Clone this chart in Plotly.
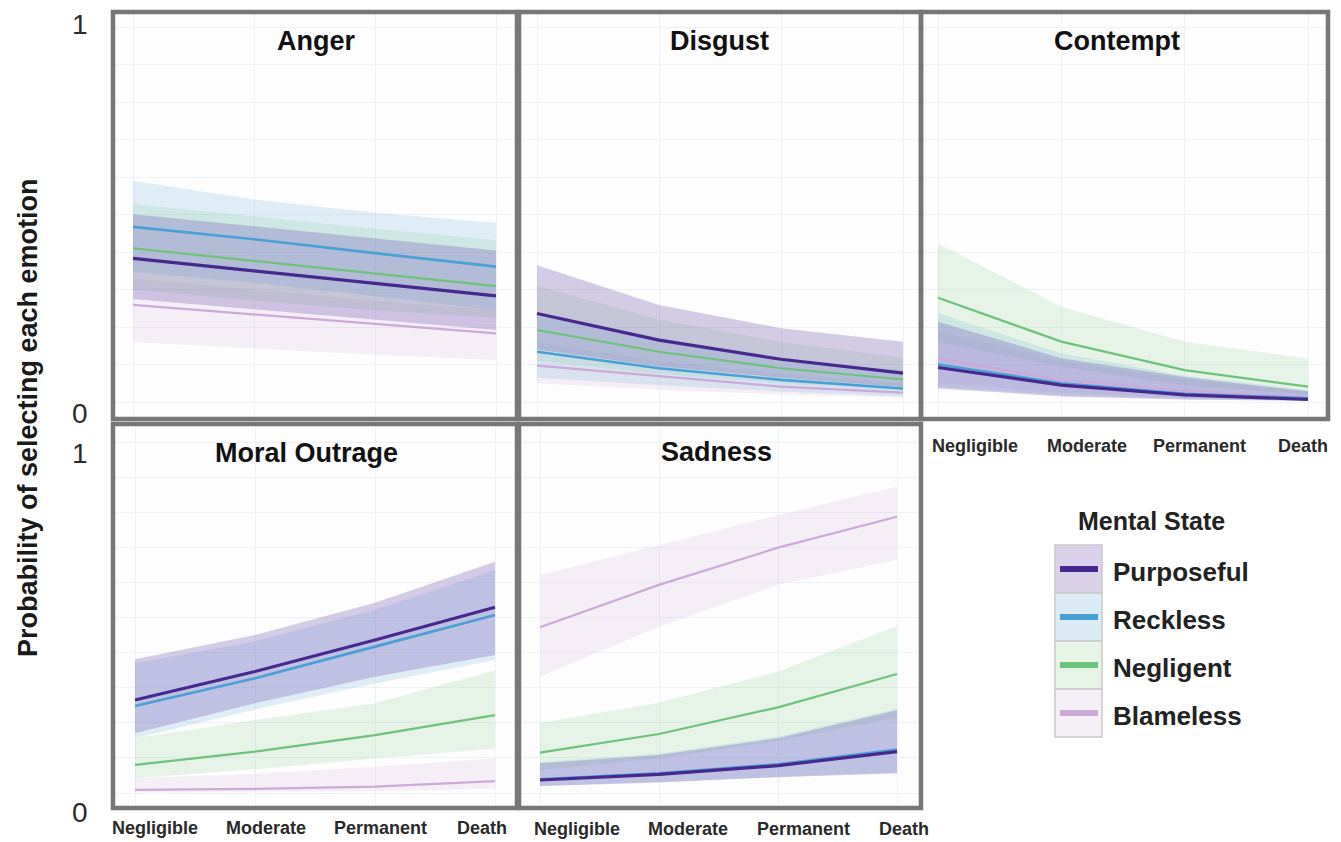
import plotly.graph_objects as go

W, H = 1341, 842

# ---------------- data ----------------
severity = ["Negligible", "Moderate", "Permanent", "Death"]
states = ["Purposeful", "Reckless", "Negligent", "Blameless"]
emotions = ["Anger", "Disgust", "Contempt", "Moral Outrage", "Sadness"]

anger_mean = {"Purposeful": [0.383, 0.350, 0.316, 0.283], "Reckless": [0.467, 0.434, 0.397, 0.361],
              "Negligent": [0.410, 0.377, 0.343, 0.309], "Blameless": [0.259, 0.234, 0.208, 0.183]}
anger_hi = {"Purposeful": [0.501, 0.468, 0.435, 0.404], "Reckless": [0.590, 0.540, 0.505, 0.478],
            "Negligent": [0.528, 0.495, 0.462, 0.432], "Blameless": [0.330, 0.300, 0.270, 0.245]}
anger_lo = {"Purposeful": [0.275, 0.247, 0.219, 0.192], "Reckless": [0.347, 0.318, 0.282, 0.245],
            "Negligent": [0.300, 0.270, 0.245, 0.224], "Blameless": [0.160, 0.142, 0.126, 0.112]}

disgust_mean = {"Purposeful": [0.236, 0.165, 0.114, 0.077], "Reckless": [0.134, 0.090, 0.059, 0.036],
                "Negligent": [0.192, 0.134, 0.090, 0.060], "Blameless": [0.097, 0.068, 0.041, 0.025]}
disgust_hi = {"Purposeful": [0.365, 0.259, 0.197, 0.161], "Reckless": [0.240, 0.170, 0.115, 0.085],
              "Negligent": [0.310, 0.220, 0.160, 0.118], "Blameless": [0.160, 0.110, 0.075, 0.050]}
disgust_lo = {"Purposeful": [0.140, 0.095, 0.065, 0.040], "Reckless": [0.065, 0.045, 0.028, 0.015],
              "Negligent": [0.110, 0.075, 0.050, 0.030], "Blameless": [0.050, 0.033, 0.020, 0.012]}

contempt_mean = {"Purposeful": [0.092, 0.045, 0.019, 0.007], "Reckless": [0.100, 0.050, 0.022, 0.010],
                 "Negligent": [0.278, 0.161, 0.085, 0.041], "Blameless": [0.116, 0.059, 0.030, 0.012]}
contempt_hi = {"Purposeful": [0.214, 0.117, 0.067, 0.028], "Reckless": [0.237, 0.130, 0.070, 0.032],
               "Negligent": [0.423, 0.254, 0.161, 0.116], "Blameless": [0.190, 0.110, 0.060, 0.030]}
contempt_lo = {"Purposeful": [0.036, 0.015, 0.007, 0.003], "Reckless": [0.040, 0.018, 0.008, 0.004],
               "Negligent": [0.160, 0.095, 0.045, 0.020], "Blameless": [0.050, 0.025, 0.012, 0.005]}

outrage_mean = {"Purposeful": [0.265, 0.346, 0.436, 0.529], "Reckless": [0.248, 0.327, 0.417, 0.507],
                "Negligent": [0.080, 0.118, 0.165, 0.222], "Blameless": [0.009, 0.012, 0.018, 0.034]}
outrage_hi = {"Purposeful": [0.381, 0.450, 0.542, 0.659], "Reckless": [0.370, 0.432, 0.522, 0.635],
              "Negligent": [0.156, 0.208, 0.256, 0.350], "Blameless": [0.042, 0.055, 0.075, 0.099]}
outrage_lo = {"Purposeful": [0.170, 0.256, 0.331, 0.393], "Reckless": [0.156, 0.238, 0.312, 0.379],
              "Negligent": [0.042, 0.068, 0.098, 0.127], "Blameless": [0.002, 0.003, 0.005, 0.012]}

sadness_mean = {"Purposeful": [0.037, 0.053, 0.078, 0.118], "Reckless": [0.039, 0.056, 0.082, 0.124],
                "Negligent": [0.115, 0.168, 0.244, 0.339], "Blameless": [0.472, 0.593, 0.699, 0.787]}
sadness_hi = {"Purposeful": [0.085, 0.108, 0.156, 0.236], "Reckless": [0.088, 0.112, 0.160, 0.240],
              "Negligent": [0.200, 0.257, 0.346, 0.476], "Blameless": [0.621, 0.707, 0.792, 0.873]}
sadness_lo = {"Purposeful": [0.020, 0.030, 0.045, 0.056], "Reckless": [0.020, 0.031, 0.046, 0.058],
              "Negligent": [0.065, 0.098, 0.148, 0.215], "Blameless": [0.331, 0.474, 0.593, 0.664]}

y_tick_labels = ["0", "1"]
y_title = "Probability of selecting each emotion"
legend_title = "Mental State"

# ---------------- styles ----------------
line_col = {"Purposeful": "#46288e", "Reckless": "#4a9fd5", "Negligent": "#6cc47a", "Blameless": "#cda9da"}
line_w = {"Purposeful": 3.2, "Reckless": 2.6, "Negligent": 2.2, "Blameless": 2.2}
fill_col = {"Purposeful": "rgba(118,88,178,0.30)", "Reckless": "rgba(120,185,225,0.22)",
            "Negligent": "rgba(125,205,135,0.18)", "Blameless": "rgba(205,165,220,0.17)"}
legend_fill = {"Purposeful": "#dcd1ea", "Reckless": "#dcecf6", "Negligent": "#e6f4e6", "Blameless": "#f5eff7"}
band_order = ["Blameless", "Negligent", "Reckless", "Purposeful"]
line_order = ["Blameless", "Negligent", "Reckless", "Purposeful"]

FONT = "Liberation Sans, Arial, Helvetica, sans-serif"

# panel boxes in pixels: (x0, x1, y0, y1), category pixel positions (Neg, Death), title position
panels = [
    ("Anger", anger_mean, anger_lo, anger_hi, (113, 517, 12, 419), (133, 496), (316, 41)),
    ("Disgust", disgust_mean, disgust_lo, disgust_hi, (519, 921, 12, 419), (537, 903), (719, 41)),
    ("Contempt", contempt_mean, contempt_lo, contempt_hi, (921, 1328, 12, 419), (938, 1308), (1117, 41)),
    ("Moral Outrage", outrage_mean, outrage_lo, outrage_hi, (113, 517, 424, 808), (135, 495), (306, 453)),
    ("Sadness", sadness_mean, sadness_lo, sadness_hi, (519, 921, 424, 808), (540, 897), (716, 452)),
]
top_y = (402, 27)     # pixel of value 0, value 1 (top row)
bot_y = (793, 442)    # bottom row


def px(x):
    return x / W


def py(y):
    return 1 - y / H


fig = go.Figure()
layout = dict(width=W, height=H, margin=dict(l=0, r=0, t=0, b=0),
              paper_bgcolor="white", plot_bgcolor="#fdfdfd", showlegend=False)
shapes, annotations = [], []
xs = list(range(len(severity)))

for i, (name, mean, lo, hi, box, cat_px, title_pos) in enumerate(panels):
    ax = "" if i == 0 else str(i + 1)
    x0, x1, y0, y1 = box
    n0, n3 = cat_px
    step = (n3 - n0) / 3
    xr = [(x0 - n0) / step, 3 + (x1 - n3) / step]
    zero, one = top_y if y1 < 420 else bot_y
    unit = zero - one
    yr = [-(y1 - zero) / unit, 1 + (one - y0) / unit]
    layout["xaxis" + ax] = dict(domain=[px(x0), px(x1)], range=xr, showticklabels=False,
                                showgrid=True, gridcolor="#eef1f6", gridwidth=1, tickvals=xs,
                                zeroline=False, showline=False, ticks="", anchor="y" + ax)
    layout["yaxis" + ax] = dict(domain=[py(y1), py(y0)], range=yr, showticklabels=False,
                                showgrid=True, gridcolor="#eef1f6", gridwidth=1, dtick=0.1, tick0=0,
                                zeroline=False, showline=False, ticks="", anchor="x" + ax)
    for s in band_order:
        fig.add_trace(go.Scatter(x=xs, y=lo[s], mode="lines", line=dict(width=0, color=fill_col[s]),
                                 xaxis="x" + ax, yaxis="y" + ax, hoverinfo="skip"))
        fig.add_trace(go.Scatter(x=xs, y=hi[s], mode="lines", line=dict(width=0, color=fill_col[s]),
                                 fill="tonexty", fillcolor=fill_col[s],
                                 xaxis="x" + ax, yaxis="y" + ax, hoverinfo="skip"))
    for s in line_order:
        fig.add_trace(go.Scatter(x=xs, y=mean[s], mode="lines", name=s,
                                 line=dict(width=line_w[s], color=line_col[s]),
                                 xaxis="x" + ax, yaxis="y" + ax))
    shapes.append(dict(type="rect", xref="paper", yref="paper", x0=px(x0), x1=px(x1),
                       y0=py(y1), y1=py(y0), line=dict(color="#777777", width=4.5), layer="above"))
    annotations.append(dict(text="<b>%s</b>" % name, x=px(title_pos[0]), y=py(title_pos[1]),
                            xref="paper", yref="paper", showarrow=False, xanchor="center",
                            yanchor="middle", font=dict(family=FONT, size=27, color="#111111")))

# x tick labels (placed as in the original figure)
tick_rows = [
    ([975, 1087, 1199, 1303], 446),
    ([155, 266, 380, 482], 828),
    ([577, 688, 803, 904], 829),
]
for xpos, yp in tick_rows:
    for lab, xp in zip(severity, xpos):
        annotations.append(dict(text="<b>%s</b>" % lab, x=px(xp), y=py(yp), xref="paper", yref="paper",
                                showarrow=False, xanchor="center", yanchor="middle",
                                font=dict(family=FONT, size=18, color="#2a2a2a")))

# y tick labels 0 / 1
for ypos0, ypos1 in [(413, 25), (812, 453)]:
    for lab, yp in zip(y_tick_labels, [ypos0, ypos1]):
        annotations.append(dict(text=lab, x=px(80), y=py(yp), xref="paper", yref="paper",
                                showarrow=False, xanchor="center", yanchor="middle",
                                font=dict(family=FONT, size=28, color="#2a2a2a")))

annotations.append(dict(text="<b>%s</b>" % y_title, x=px(28), y=py(418), xref="paper", yref="paper",
                        showarrow=False, textangle=-90, xanchor="center", yanchor="middle",
                        font=dict(family=FONT, size=27, color="#1a1a1a")))

# legend (drawn manually)
annotations.append(dict(text="<b>%s</b>" % legend_title, x=px(1151), y=py(521), xref="paper", yref="paper",
                        showarrow=False, xanchor="center", yanchor="middle",
                        font=dict(family=FONT, size=25, color="#222222")))
key_top = 545
key_h = 48
for k, s in enumerate(states):
    ky0 = key_top + k * key_h
    ky1 = ky0 + key_h
    kc = (ky0 + ky1) / 2
    shapes.append(dict(type="rect", xref="paper", yref="paper", x0=px(1055), x1=px(1102),
                       y0=py(ky1), y1=py(ky0), fillcolor=legend_fill[s],
                       line=dict(color="#c9c9c9", width=1.5)))
    shapes.append(dict(type="line", xref="paper", yref="paper", x0=px(1060), x1=px(1098),
                       y0=py(kc), y1=py(kc), line=dict(color=line_col[s], width=6)))
    annotations.append(dict(text="<b>%s</b>" % s, x=px(1111), y=py(kc + 3), xref="paper", yref="paper",
                            showarrow=False, xanchor="left", yanchor="middle",
                            font=dict(family=FONT, size=26, color="#222222")))

layout["shapes"] = shapes
layout["annotations"] = annotations
fig.update_layout(**layout)
fig.write_html("out.html", config={"displayModeBar": False},
               post_script="document.body.style.margin='0';document.body.style.overflow='hidden';")
